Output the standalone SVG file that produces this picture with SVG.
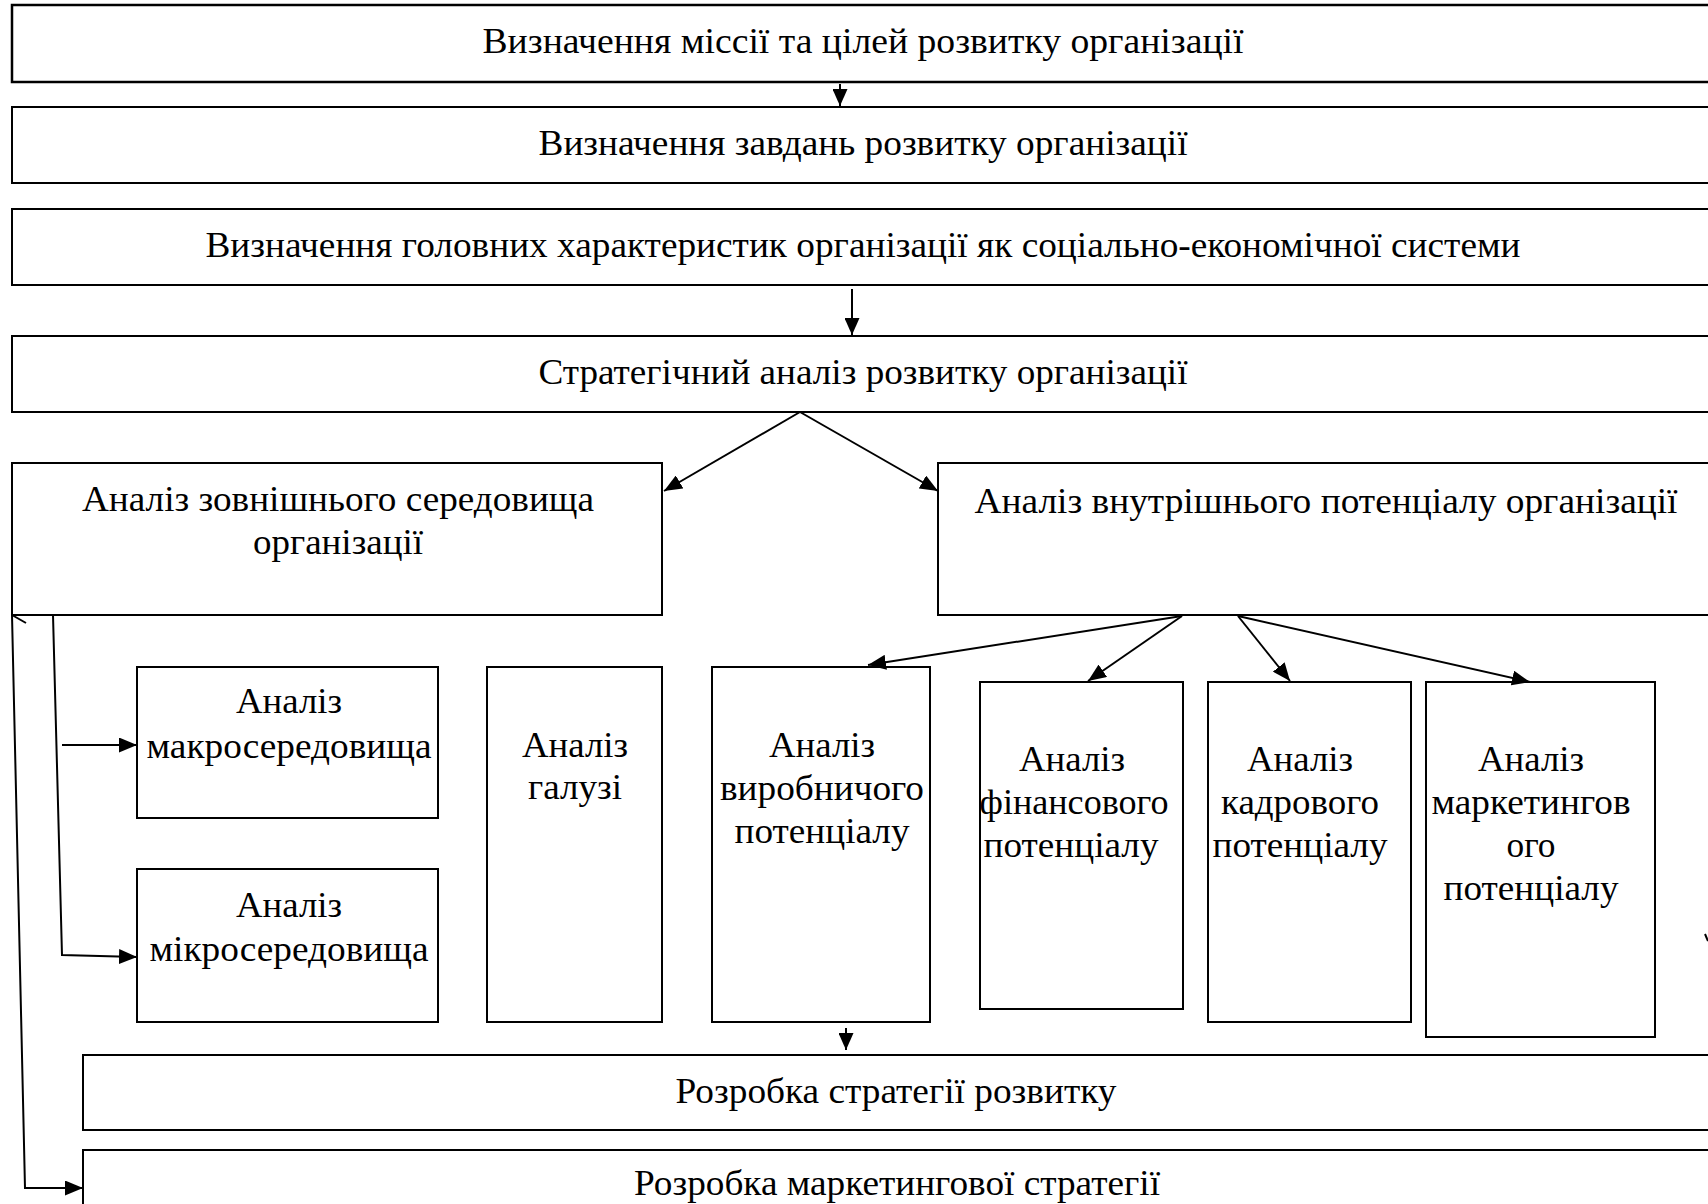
<svg xmlns="http://www.w3.org/2000/svg" width="1708" height="1204" viewBox="0 0 1708 1204">
<defs>
<style>
.b{fill:#fff;stroke:#000;stroke-width:2}
.t{font-family:"Liberation Serif","Times New Roman",serif;font-size:36px;fill:#000;text-anchor:middle}
.c{fill:none;stroke:#000;stroke-width:2}
</style>
<marker id="ah" viewBox="0 0 10 10" refX="10" refY="5" markerUnits="userSpaceOnUse" markerWidth="18" markerHeight="15" preserveAspectRatio="none" orient="auto"><path d="M0,0 L10,5 L0,10 z" fill="#000"/></marker>
<marker id="as" viewBox="0 0 10 10" refX="10" refY="5" markerUnits="userSpaceOnUse" markerWidth="17" markerHeight="15" preserveAspectRatio="none" orient="auto"><path d="M0,0 L10,5 L0,10 z" fill="#000"/></marker>
</defs>
<rect width="1708" height="1204" fill="#fff"/>
<g id="n1"><rect class="b" x="12" y="5" width="1710" height="77" style="stroke-width:2.5"/><text class="t" x="863" y="53" textLength="761" lengthAdjust="spacingAndGlyphs">Визначення міссії та  цілей розвитку організації</text></g>
<g id="n2"><rect class="b" x="12" y="107" width="1710" height="76"/><text class="t" x="863" y="155" textLength="649" lengthAdjust="spacingAndGlyphs">Визначення завдань розвитку організації</text></g>
<g id="n3"><rect class="b" x="12" y="209" width="1710" height="76"/><text class="t" x="863" y="257" textLength="1315" lengthAdjust="spacingAndGlyphs">Визначення головних характеристик організації як соціально-економічної системи</text></g>
<g id="n4"><rect class="b" x="12" y="336" width="1710" height="76"/><text class="t" x="863" y="384" textLength="649" lengthAdjust="spacingAndGlyphs">Стратегічний аналіз розвитку організації</text></g>
<g id="n5"><rect class="b" x="12" y="463" width="650" height="152"/><text class="t" x="338" y="511" textLength="512" lengthAdjust="spacingAndGlyphs">Аналіз зовнішнього середовища</text><text class="t" x="338" y="554" textLength="170" lengthAdjust="spacingAndGlyphs">організації</text></g>
<g id="n6"><rect class="b" x="938" y="463" width="790" height="152"/><text class="t" x="1326" y="513" textLength="703" lengthAdjust="spacingAndGlyphs">Аналіз внутрішнього потенціалу організації</text></g>
<g id="n7"><rect class="b" x="137" y="667" width="301" height="151"/><text class="t" x="289" y="713" textLength="106" lengthAdjust="spacingAndGlyphs">Аналіз</text><text class="t" x="289" y="758" textLength="285" lengthAdjust="spacingAndGlyphs">макросередовища</text></g>
<g id="n8"><rect class="b" x="137" y="869" width="301" height="153"/><text class="t" x="289" y="917" textLength="106" lengthAdjust="spacingAndGlyphs">Аналіз</text><text class="t" x="289" y="961" textLength="279" lengthAdjust="spacingAndGlyphs">мікросередовища</text></g>
<g id="n9"><rect class="b" x="487" y="667" width="175" height="355"/><text class="t" x="575" y="757" textLength="106" lengthAdjust="spacingAndGlyphs">Аналіз</text><text class="t" x="575" y="799" textLength="94" lengthAdjust="spacingAndGlyphs">галузі</text></g>
<g id="n10"><rect class="b" x="712" y="667" width="218" height="355"/><text class="t" x="822" y="757" textLength="106" lengthAdjust="spacingAndGlyphs">Аналіз</text><text class="t" x="822" y="800" textLength="204" lengthAdjust="spacingAndGlyphs">виробничого</text><text class="t" x="822" y="843" textLength="175" lengthAdjust="spacingAndGlyphs">потенціалу</text></g>
<g id="n11"><rect class="b" x="980" y="682" width="203" height="327"/><text class="t" x="1072" y="771" textLength="106" lengthAdjust="spacingAndGlyphs">Аналіз</text><text class="t" x="1074" y="814" textLength="189" lengthAdjust="spacingAndGlyphs">фінансового</text><text class="t" x="1071" y="857" textLength="175" lengthAdjust="spacingAndGlyphs">потенціалу</text></g>
<g id="n12"><rect class="b" x="1208" y="682" width="203" height="340"/><text class="t" x="1300" y="771" textLength="106" lengthAdjust="spacingAndGlyphs">Аналіз</text><text class="t" x="1300" y="814" textLength="158" lengthAdjust="spacingAndGlyphs">кадрового</text><text class="t" x="1300" y="857" textLength="175" lengthAdjust="spacingAndGlyphs">потенціалу</text></g>
<g id="n13"><rect class="b" x="1426" y="682" width="229" height="355"/><text class="t" x="1531" y="771" textLength="106" lengthAdjust="spacingAndGlyphs">Аналіз</text><text class="t" x="1531" y="814" textLength="199" lengthAdjust="spacingAndGlyphs">маркетингов</text><text class="t" x="1531" y="857" textLength="49" lengthAdjust="spacingAndGlyphs">ого</text><text class="t" x="1531" y="900" textLength="175" lengthAdjust="spacingAndGlyphs">потенціалу</text></g>
<g id="n14"><rect class="b" x="83" y="1055" width="1640" height="75"/><text class="t" x="896" y="1103" textLength="441" lengthAdjust="spacingAndGlyphs">Розробка стратегії розвитку</text></g>
<g id="n15"><rect class="b" x="83" y="1150" width="1640" height="80"/><text class="t" x="897" y="1195" textLength="526" lengthAdjust="spacingAndGlyphs">Розробка маркетингової стратегії</text></g>
<g id="connectors">
<path class="c" d="M840 84 L840 106" marker-end="url(#as)"/>
<path class="c" d="M852 289 L852 335" marker-end="url(#as)"/>
<path class="c" d="M800 412 L664 491" marker-end="url(#ah)"/>
<path class="c" d="M800 412 L938 491" marker-end="url(#ah)"/>
<path class="c" d="M1182 616 L868 665" marker-end="url(#ah)"/>
<path class="c" d="M1182 616 L1088 681" marker-end="url(#ah)"/>
<path class="c" d="M1238 616 L1290 681" marker-end="url(#ah)"/>
<path class="c" d="M1238 616 L1530 682" marker-end="url(#ah)"/>
<path class="c" d="M846 1028 L846 1050" marker-end="url(#as)"/>
<path class="c" d="M53 615 L62 955 L137 957" marker-end="url(#ah)"/>
<path class="c" d="M62 745 L137 745" marker-end="url(#ah)"/>
<path class="c" d="M12 615 L25 1188 L83 1188" marker-end="url(#ah)"/>
<path class="c" d="M12 615 L26 623"/>
<path class="c" d="M1705 934 L1708 941"/>
</g>
</svg>
